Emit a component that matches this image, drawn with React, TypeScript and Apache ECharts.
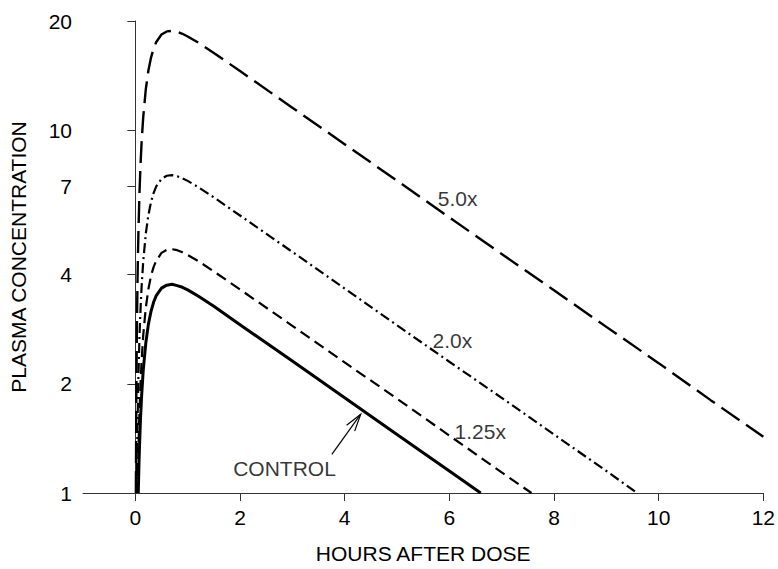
import React, { useEffect, useRef } from "react";
import * as echarts from "echarts";

// Hours after dose (x) and plasma concentration (y)
const controlHours = [0.056, 0.07, 0.08, 0.1, 0.12, 0.15, 0.2, 0.25, 0.3, 0.35, 0.4, 0.5, 0.6, 0.7, 0.8, 0.9, 1, 1.2, 1.5, 2, 3, 4, 5, 6, 6.6];
const controlConc = [1.0, 1.21, 1.35, 1.62, 1.85, 2.17, 2.59, 2.92, 3.17, 3.36, 3.5, 3.67, 3.74, 3.76, 3.73, 3.69, 3.63, 3.49, 3.27, 2.91, 2.31, 1.83, 1.45, 1.15, 1.0];

const x125Hours = [0.044, 0.056, 0.07, 0.08, 0.1, 0.12, 0.15, 0.2, 0.25, 0.3, 0.35, 0.4, 0.5, 0.6, 0.7, 0.8, 0.9, 1, 1.2, 1.5, 2, 3, 4, 5, 6, 7, 7.57];
const x125Conc = [1.0, 1.25, 1.52, 1.69, 2.02, 2.32, 2.71, 3.24, 3.65, 3.97, 4.2, 4.37, 4.59, 4.68, 4.7, 4.67, 4.61, 4.53, 4.36, 4.08, 3.64, 2.89, 2.29, 1.82, 1.44, 1.14, 1.0];

const x2Hours = [0.026, 0.04, 0.05, 0.06, 0.08, 0.1, 0.12, 0.15, 0.2, 0.25, 0.3, 0.35, 0.4, 0.5, 0.6, 0.7, 0.8, 0.9, 1, 1.2, 1.5, 2, 3, 4, 5, 6, 7, 8, 9, 9.59];
const x2Conc = [1.0, 1.49, 1.81, 2.13, 2.71, 3.23, 3.71, 4.33, 5.19, 5.84, 6.34, 6.72, 7.0, 7.34, 7.49, 7.52, 7.47, 7.37, 7.25, 6.97, 6.53, 5.82, 4.62, 3.66, 2.9, 2.3, 1.83, 1.45, 1.15, 1.0];

const x5Hours = [0.01, 0.02, 0.03, 0.04, 0.05, 0.06, 0.08, 0.1, 0.12, 0.15, 0.2, 0.25, 0.3, 0.35, 0.4, 0.5, 0.6, 0.7, 0.8, 0.9, 1, 1.2, 1.5, 2, 3, 4, 5, 6, 7, 8, 9, 10, 11, 12];
const x5Conc = [1.0, 1.95, 2.86, 3.72, 4.53, 5.31, 6.77, 8.08, 9.27, 10.83, 12.97, 14.61, 15.86, 16.8, 17.5, 18.36, 18.72, 18.79, 18.67, 18.44, 18.13, 17.44, 16.33, 14.56, 11.54, 9.15, 7.26, 5.75, 4.56, 3.62, 2.87, 2.28, 1.8, 1.43];

const yTickLabels = [1, 2, 4, 7, 10, 20];
const xTickLabels = [0, 2, 4, 6, 8, 10, 12];

// Curve annotations (anchor = left/middle of text, in data units)
const annotationText = ["5.0x", "2.0x", "1.25x", "CONTROL"];
const annotationHours = [5.78, 5.68, 6.1, 1.87];
const annotationConc = [6.48, 2.64, 1.48, 1.169];

// Arrow from CONTROL label to the control curve
const arrowTail = [3.755, 1.278];
const arrowTip = [4.307, 1.649];

const FONT = "Liberation Sans";
const FS = 21;

function pairs(xs: number[], ys: number[]) {
  return xs.map((x, i) => [x, Math.log10(ys[i])]);
}

export default function App() {
  const ref = useRef<HTMLDivElement>(null);

  useEffect(() => {
    if (!ref.current) return;
    const chart = echarts.init(ref.current, undefined, { renderer: "svg" });

    const lineBase = {
      type: "line" as const,
      showSymbol: false,
      symbol: "none",
      smooth: false,
      clip: true,
    };

    const option: any = {
      animation: false,
      backgroundColor: "#ffffff",
      grid: { left: 82, right: 13, top: 21, bottom: 69, containLabel: false },
      xAxis: {
        type: "value",
        min: -1,
        max: 12,
        name: "HOURS AFTER DOSE",
        nameLocation: "middle",
        nameGap: 50,
        nameTextStyle: { fontFamily: FONT, fontSize: FS, color: "#000" },
        axisLine: { show: true, lineStyle: { color: "#333", width: 1 } },
        axisTick: { show: true, length: 8, customValues: xTickLabels, lineStyle: { color: "#333" } },
        axisLabel: {
          customValues: xTickLabels,
          margin: 14,
          fontFamily: FONT,
          fontSize: FS,
          color: "#000",
        },
        splitLine: { show: false },
      },
      yAxis: {
        type: "value",
        min: 0,
        max: Math.log10(20),
        name: "PLASMA CONCENTRATION",
        nameLocation: "middle",
        nameGap: 54,
        nameRotate: 90,
        nameTextStyle: { fontFamily: FONT, fontSize: FS, color: "#000" },
        axisLine: { show: true, lineStyle: { color: "#333", width: 1 } },
        axisTick: {
          show: true,
          length: 8,
          customValues: yTickLabels.map((v) => Math.log10(v)),
          lineStyle: { color: "#333" },
        },
        axisLabel: {
          customValues: yTickLabels.map((v) => Math.log10(v)),
          formatter: (v: number) => String(Math.round(Math.pow(10, v))),
          margin: 11,
          fontFamily: FONT,
          fontSize: FS,
          color: "#000",
        },
        splitLine: { show: false },
      },
      series: [
        {
          ...lineBase,
          name: "CONTROL",
          data: pairs(controlHours, controlConc),
          lineStyle: { color: "#000", width: 3, type: "solid", join: "round" },
        },
        {
          ...lineBase,
          name: "1.25x",
          data: pairs(x125Hours, x125Conc),
          lineStyle: { color: "#000", width: 2.2, type: [11, 6] },
        },
        {
          ...lineBase,
          name: "2.0x",
          data: pairs(x2Hours, x2Conc),
          lineStyle: { color: "#000", width: 2.2, type: [10, 4, 2, 4] },
        },
        {
          ...lineBase,
          name: "5.0x",
          data: pairs(x5Hours, x5Conc),
          lineStyle: { color: "#000", width: 2.4, type: [22, 8] },
        },
        {
          type: "scatter",
          name: "labels",
          symbolSize: 0,
          silent: true,
          data: annotationText.map((t, i) => ({
            name: t,
            value: [annotationHours[i], Math.log10(annotationConc[i])],
          })),
          label: {
            show: true,
            position: "right",
            distance: 0,
            formatter: (p: any) => p.name,
            fontFamily: FONT,
            fontSize: FS,
            color: "#000",
          },
        },
      ],
    };

    chart.setOption(option);

    const tail = chart.convertToPixel({ gridIndex: 0 }, [arrowTail[0], Math.log10(arrowTail[1])]) as number[];
    const tip = chart.convertToPixel({ gridIndex: 0 }, [arrowTip[0], Math.log10(arrowTip[1])]) as number[];
    const dx = tail[0] - tip[0];
    const dy = tail[1] - tip[1];
    const len = Math.sqrt(dx * dx + dy * dy);
    const ux = dx / len;
    const uy = dy / len;
    const headLen = 18;
    const ang = (16 * Math.PI) / 180;
    const rot = (a: number) => [
      tip[0] + headLen * (ux * Math.cos(a) - uy * Math.sin(a)),
      tip[1] + headLen * (ux * Math.sin(a) + uy * Math.cos(a)),
    ];
    const w1 = rot(ang);
    const w2 = rot(-ang);

    chart.setOption({
      graphic: [
        {
          type: "line",
          shape: { x1: tail[0], y1: tail[1], x2: tip[0], y2: tip[1] },
          style: { stroke: "#000", lineWidth: 1.2 },
          silent: true,
        },
        {
          type: "polyline",
          shape: { points: [w1, tip, w2] },
          style: { stroke: "#000", lineWidth: 1.2, fill: "none" },
          silent: true,
        },
      ],
    });

    return () => chart.dispose();
  }, []);

  return (
    <div
      ref={ref}
      style={{ position: "fixed", left: 0, top: 0, width: 778, height: 569, background: "#fff" }}
    />
  );
}
